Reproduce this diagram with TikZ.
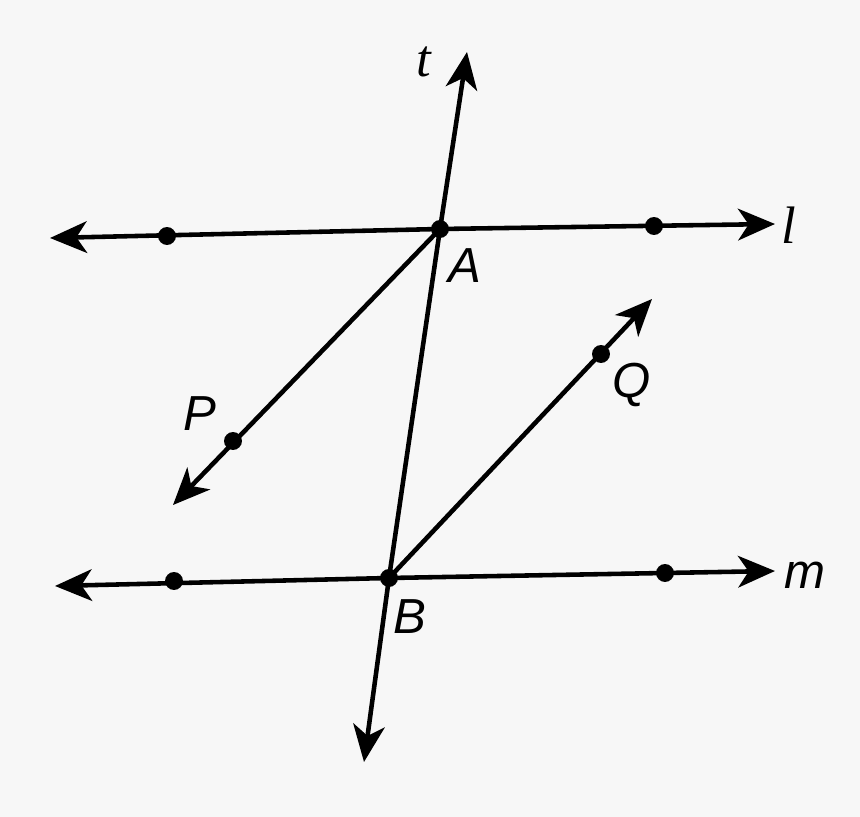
\documentclass[tikz,border=0pt]{standalone}
\usepackage{fontspec}
\setmainfont{Liberation Sans}
\newfontfamily\serifit{Liberation Serif}
\usetikzlibrary{arrows.meta}
\begin{document}
\begin{tikzpicture}[x=0.02cm,y=-0.02cm,
  ln/.style={line width=2.6pt,-{Stealth[length=21pt,width=18pt,inset=6pt]}},
  pt/.style={circle,fill=black,inner sep=0pt,minimum size=18*0.567pt},
  lab/.style={font=\fontsize{28}{30}\selectfont\itshape,inner sep=0pt}]
\fill[white!97!black] (0,0) rectangle (860,817);
\useasboundingbox (0,0) rectangle (860,817);
% points
\node[pt] (A) at (440,229) {};
\node[pt] (B) at (389,578) {};
\node[pt] (l1) at (167,236) {};
\node[pt] (l2) at (654,226) {};
\node[pt] (m1) at (174,581) {};
\node[pt] (m2) at (665,573) {};
\node[pt] (P) at (233,441) {};
\node[pt] (Q) at (601,354) {};
% arrow ends
\coordinate (lL) at (50,238);
\coordinate (lR) at (775,224);
\coordinate (mL) at (55,586);
\coordinate (mR) at (775,571);
\coordinate (tT) at (467,52);
\coordinate (tB) at (364,762);
\coordinate (pE) at (173,505);
\coordinate (qE) at (652,299);
% lines
\draw[ln] (A.center) -- (lL);
\draw[ln] (A.center) -- (lR);
\draw[ln] (B.center) -- (mL);
\draw[ln] (B.center) -- (mR);
\draw[ln] (A.center) -- (tT);
\draw[ln] (B.center) -- (tB);
\draw[line width=2.6pt] (A.center) -- (B.center);
\draw[ln] (A.center) -- (pE);
\draw[ln] (B.center) -- (qE);
% labels
\node[lab,font=\fontsize{30}{32}\selectfont\serifit\itshape] (tl) at (424,62) {t};
\node[lab,font=\fontsize{30}{32}\selectfont\serifit\itshape] (ll) at (789,225) {l};
\node[lab] (Al) at (465,266) {A};
\node[lab] (Pl) at (200,414) {P};
\node[lab] (Ql) at (632,385) {Q};
\node[lab] (Bl) at (410,617) {B};
\node[lab] (ml) at (805,575) {m};
\end{tikzpicture}
\end{document}
